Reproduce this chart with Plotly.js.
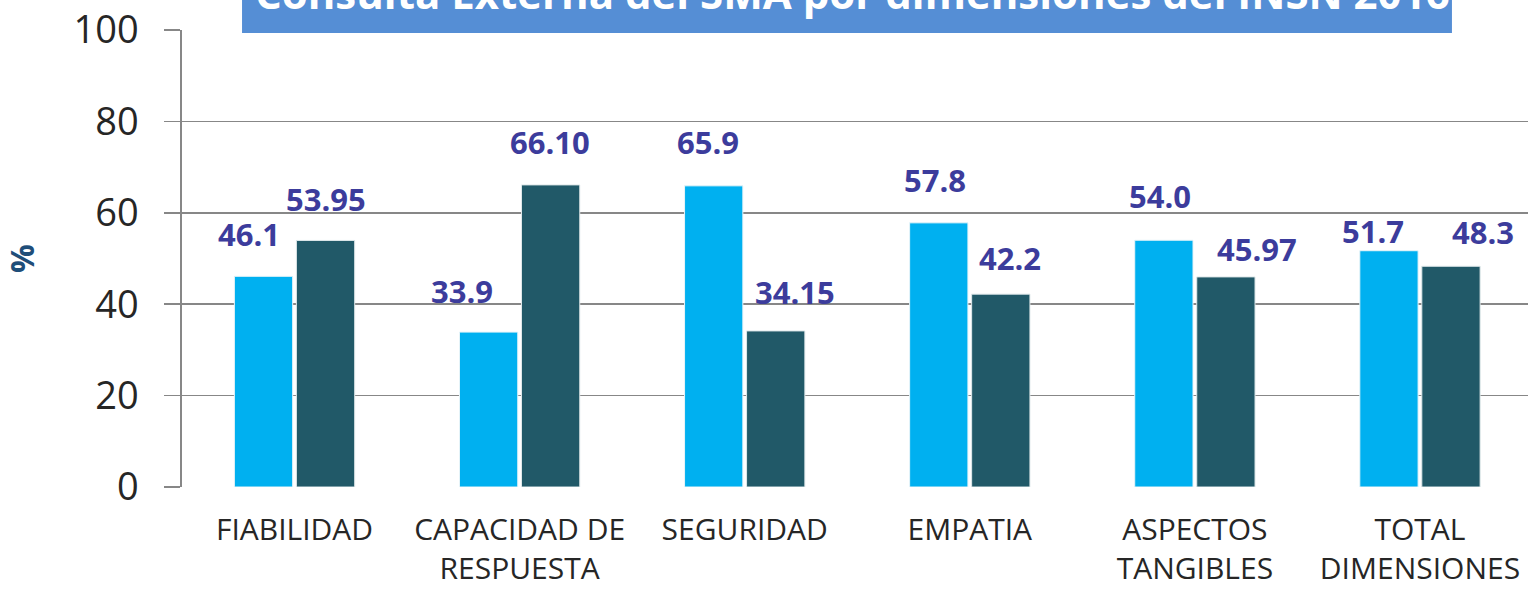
<!DOCTYPE html>
<html>
<head>
<meta charset="utf-8">
<script src="https://cdn.plot.ly/plotly-3.0.1.min.js"></script>
<style>
  html, body { margin: 0; padding: 0; background: #ffffff; }
  #chart { width: 1528px; height: 590px; }
</style>
</head>
<body>
<div id="chart"></div>
<script>
// ---- Data ----
const categories = [
  "FIABILIDAD",
  "CAPACIDAD DE<br>RESPUESTA",
  "SEGURIDAD",
  "EMPATIA",
  "ASPECTOS<br>TANGIBLES",
  "TOTAL<br>DIMENSIONES"
];
const seriesA = [46.1, 33.9, 65.9, 57.8, 54.0, 51.7];
const seriesB = [53.95, 66.10, 34.15, 42.2, 45.97, 48.3];
const labelsA = ["46.1", "33.9", "65.9", "57.8", "54.0", "51.7"];
const labelsB = ["53.95", "66.10", "34.15", "42.2", "45.97", "48.3"];
const yTicks = [0, 20, 40, 60, 80, 100];
const titleText = "Consulta Externa del SMA por dimensiones del INSN 2016";

// ---- Label placement (pixel offsets, manual as in the original) ----
const shiftA = [[-46, 42], [-58, 41], [-37, 44], [-35, 43], [-35, 44], [-47, 20]];
const shiftB = [[31, 41], [30, 43], [50, 39], [40, 36], [62, 28], [63, 34]];

const xIdx = categories.map((_, i) => i);

const traces = [
  {
    type: "bar", x: xIdx, y: seriesA, name: "A",
    marker: { color: "#00b0f0", line: { color: "#e8f4f8", width: 1 } },
    hoverinfo: "none"
  },
  {
    type: "bar", x: xIdx, y: seriesB, name: "B",
    marker: { color: "#215968", line: { color: "#dfe8ea", width: 1 } },
    hoverinfo: "none"
  }
];

const labelFont = { family: "Open Sans, sans-serif", size: 31, color: "#3c3c9c" };
const annotations = [];
seriesA.forEach((v, i) => {
  annotations.push({
    x: i, y: v, xref: "x", yref: "y", text: "<b>" + labelsA[i] + "</b>",
    showarrow: false, xanchor: "center", yanchor: "middle",
    xshift: shiftA[i][0], yshift: shiftA[i][1], font: labelFont
  });
});
seriesB.forEach((v, i) => {
  annotations.push({
    x: i, y: v, xref: "x", yref: "y", text: "<b>" + labelsB[i] + "</b>",
    showarrow: false, xanchor: "center", yanchor: "middle",
    xshift: shiftB[i][0], yshift: shiftB[i][1], font: labelFont
  });
});
// Title text (cut off at the top edge, as in the original)
annotations.push({
  x: 0.4978, y: 1.0175, xref: "paper", yref: "paper",
  text: "<b>" + titleText + "</b>", showarrow: false,
  xanchor: "center", yanchor: "bottom", borderpad: 0,
  font: { family: "Open Sans, sans-serif", size: 42, color: "#ffffff" }
});

const layout = {
  width: 1528, height: 590,
  margin: { l: 182, r: 0, t: 30, b: 103 },
  paper_bgcolor: "#ffffff", plot_bgcolor: "#ffffff",
  showlegend: false,
  barmode: "group", bargap: 0.449, bargroupgap: 0.06,
  xaxis: {
    range: [-0.5, 5.48],
    tickmode: "array", tickvals: xIdx, ticktext: categories,
    showgrid: false, zeroline: false, showline: false, ticks: "",
    ticklabelstandoff: 22,
    tickfont: { family: "Open Sans, sans-serif", size: 30, color: "#262626" },
    fixedrange: true
  },
  yaxis: {
    range: [0, 100],
    tickmode: "array", tickvals: yTicks,
    showgrid: true, gridcolor: "#878787", gridwidth: 1.6,
    zeroline: false,
    showline: true, linecolor: "#878787", linewidth: 1.6,
    ticks: "outside", ticklen: 16, tickcolor: "#878787", tickwidth: 1.6,
    tickfont: { family: "Open Sans, sans-serif", size: 38, color: "#262626" },
    ticklabelstandoff: 18,
    title: { text: "<b>%</b>", standoff: 72,
      font: { family: "Open Sans, sans-serif", size: 32, color: "#1f4e79" } },
    fixedrange: true
  },
  shapes: [
    { type: "rect", xref: "paper", yref: "paper",
      x0: 0.0446, x1: 0.9435, y0: 0.9934, y1: 1.2,
      fillcolor: "#558ed5", line: { width: 0 }, layer: "above" }
  ],
  annotations: annotations
};

Plotly.newPlot("chart", traces, layout, { staticPlot: true, displayModeBar: false });
</script>
</body>
</html>
